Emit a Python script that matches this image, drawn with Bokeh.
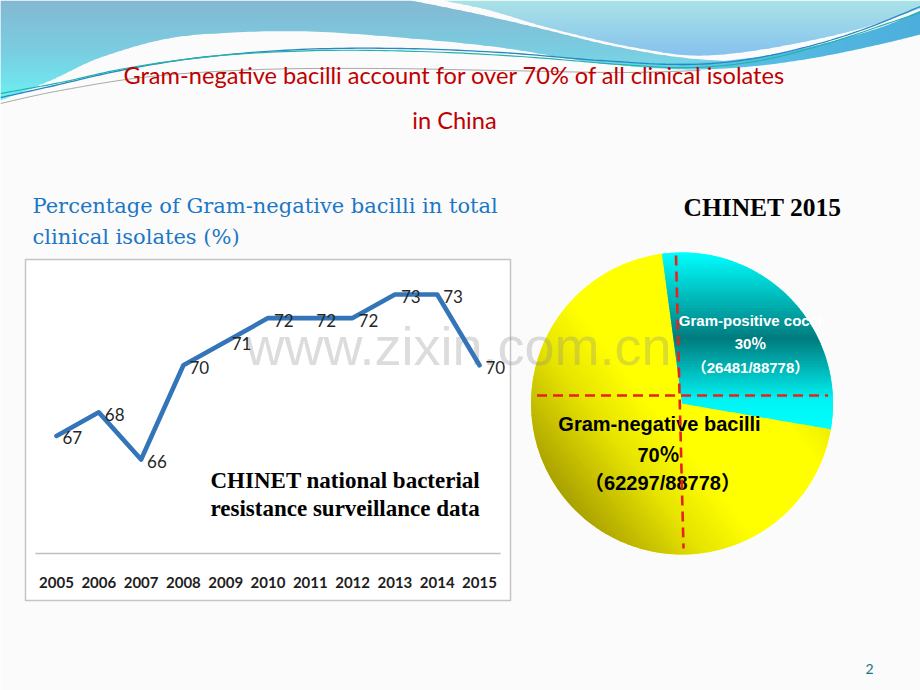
import numpy as np
from bokeh.plotting import figure
from bokeh.models import Range1d, LinearAxis, FixedTicker
from bokeh.core.properties import value
from bokeh.embed import file_html
from bokeh.resources import INLINE

# ---------------- data ----------------
years = [2005, 2006, 2007, 2008, 2009, 2010, 2011, 2012, 2013, 2014, 2015]
gnb_pct = [67, 68, 66, 70, 71, 72, 72, 72, 73, 73, 70]

pie_categories = ["Gram-negative bacilli", "Gram-positive cocci"]
pie_counts = [62297, 26481]

title_lines = ["Gram-negative bacilli account for over 70% of all clinical isolates", "in China"]
subtitle_lines = ["Percentage of Gram-negative bacilli in total", "clinical isolates (%)"]
note_lines = ["CHINET national bacterial", "resistance surveillance data"]
pie_title = "CHINET 2015"
watermark = "www.zixin.com.cn"
page_no = "2"

# ---------------- helpers ----------------
W, H = 920, 690


def Y(v):
    return H - np.asarray(v, dtype=float)


def smooth(pts, n=14):
    pts = np.asarray(pts, float)
    P = np.vstack([pts[0], pts, pts[-1]])
    out = []
    for i in range(1, len(P) - 2):
        p0, p1, p2, p3 = P[i - 1], P[i], P[i + 1], P[i + 2]
        for t in np.linspace(0, 1, n, endpoint=False):
            t2, t3 = t * t, t * t * t
            out.append(0.5 * ((2 * p1) + (-p0 + p2) * t + (2 * p0 - 5 * p1 + 4 * p2 - p3) * t2
                              + (-p0 + 3 * p1 - 3 * p2 + p3) * t3))
    out.append(P[-2])
    return [tuple(q) for q in out]


def clip(poly, nx, ny, c):
    out = []
    n = len(poly)
    for i in range(n):
        a, b = poly[i], poly[(i + 1) % n]
        da = nx * a[0] + ny * a[1] - c
        db = nx * b[0] + ny * b[1] - c
        if da >= 0:
            out.append(a)
        if (da >= 0) != (db >= 0):
            t = da / (da - db)
            out.append((a[0] + t * (b[0] - a[0]), a[1] + t * (b[1] - a[1])))
    return out


def hex2rgb(h):
    h = h.lstrip("#")
    return np.array([int(h[i:i + 2], 16) for i in (0, 2, 4)], float)


def color_at(stops, t):
    for (t0, c0), (t1, c1) in zip(stops[:-1], stops[1:]):
        if t <= t1:
            f = 0 if t1 == t0 else (t - t0) / (t1 - t0)
            f = min(max(f, 0), 1)
            c = hex2rgb(c0) * (1 - f) + hex2rgb(c1) * f
            return "#%02x%02x%02x" % tuple(int(round(v)) for v in c)
    return stops[-1][1]


def gradient(p, poly, d, stops, n=60, alpha=1.0):
    dx, dy = d
    L = np.hypot(dx, dy)
    dx, dy = dx / L, dy / L
    proj = [dx * x + dy * y for x, y in poly]
    t0, t1 = min(proj), max(proj)
    xs, ys, cs = [], [], []
    for k in range(n):
        a = t0 + (t1 - t0) * k / n
        b = t0 + (t1 - t0) * (k + 1) / n
        q = clip(poly, dx, dy, a - 0.4)
        q = clip(q, -dx, -dy, -(b + 0.4))
        if len(q) >= 3:
            xs.append([v[0] for v in q])
            ys.append([v[1] for v in q])
            cs.append(color_at(stops, (k + 0.5) / n))
    p.patches(xs, ys, fill_color=cs, line_color=None, fill_alpha=alpha)


def to_data(pts):
    return [(x, H - y) for x, y in pts]


# ---------------- figure ----------------
p = figure(width=W, height=H, x_range=Range1d(0, W), y_range=Range1d(0, H),
           output_backend="svg", toolbar_location=None, min_border=0,
           x_axis_type=None, y_axis_type=None,
           background_fill_color="#FBFBFB", border_fill_color="#FBFBFB")
p.outline_line_color = None

# ---- top decorative waves ----
shapeA = [(0, 0)] + smooth([(410, 0), (470, 12), (540, 28), (610, 45), (680, 57), (750, 62)]) + \
    smooth([(750, 62), (700, 66), (610, 64), (500, 47), (400, 37), (310, 31), (233, 32),
            (167, 38), (100, 57), (50, 80), (0, 100)])
gradient(p, to_data(shapeA), (0, -1), [(0, "#84B8D2"), (0.5, "#7ACCE0"), (1, "#6CF0F4")], n=40)

shapeB = [(443, 0), (920, 0)] + smooth([(920, 8), (860, 28), (800, 42), (740, 52), (690, 55),
                                        (640, 48), (600, 40), (540, 25), (490, 10), (443, 0)])
gradient(p, to_data(shapeB), (0, -1), [(0, "#AAE3E6"), (1, "#86C2EE")], n=30)

shapeC = smooth([(630, 62), (700, 62), (760, 56), (820, 44), (880, 27), (920, 10)]) + \
    smooth([(920, 34), (870, 46), (810, 58), (750, 66), (690, 69), (630, 66)])
gradient(p, to_data(shapeC), (1, 0), [(0, "#6AD8E6"), (0.4, "#56BEE2"), (1, "#4CAEDC")], n=30)

for pts, col, w in [
    ([(0, 97), (50, 86), (120, 70), (200, 57), (300, 49), (400, 48), (500, 52), (600, 60),
      (680, 64), (740, 60), (800, 48), (860, 30), (920, 6)], "#2A86C6", 1.3),
    ([(0, 93), (60, 82), (130, 67), (220, 55), (320, 50), (420, 51), (520, 56), (620, 64),
      (690, 67), (760, 60), (830, 42), (890, 22), (920, 12)], "#22B4A8", 1.2),
    ([(0, 103), (60, 90), (150, 76), (260, 69), (380, 68), (500, 70), (620, 72), (700, 70)],
     "#A8A8A8", 1.0),
]:
    s = smooth(pts)
    p.line([q[0] for q in s], list(Y([q[1] for q in s])), line_color=col, line_width=w)

# ---- titles ----
p.text(x=[454, 454], y=Y([74, 119]), text=title_lines, text_font=value("Lato"),
       text_font_size="23.6px", text_color="#C00000", text_align="center", text_baseline="middle")
p.text(x=[32, 32], y=Y([205, 236]), text=subtitle_lines, text_font=value("DejaVu Serif"),
       text_font_size="21px", text_color="#1C77C5", text_align="left", text_baseline="middle")
p.text(x=[762], y=Y([207]), text=[pie_title], text_font=value("Liberation Serif"),
       text_font_style="bold", text_font_size="25.5px", text_color="#000000",
       text_align="center", text_baseline="middle")

# ---- line chart box ----
p.quad(left=[25], right=[510], top=Y([259]), bottom=Y([600]), fill_color="#FFFFFF",
       line_color="#C4C4C4", line_width=1.5)

# ranges for the line chart (year / percent), scaled to the chart region
kx = 42.3
ky = 23.57
x0_px, y0_px, y0_val = 56.0, 459.0, 66.0
p.extra_x_ranges = {"yr": Range1d(years[0] - x0_px / kx, years[0] + (W - x0_px) / kx)}
p.extra_y_ranges = {"pct": Range1d(y0_val - (H - y0_px) / ky, y0_val + y0_px / ky)}

# ---- pie ----
cx, cy, r = 681.5, 403.0, 151.0
total = float(sum(pie_counts))
fracs = [c / total for c in pie_counts]
start_offset = 97.6  # degrees, boundary at top
ang_pos_end = start_offset
ang_pos_start = start_offset - fracs[1] * 360
ang_neg_end = ang_pos_start
ang_neg_start = ang_pos_start - fracs[0] * 360

p.wedge(x=[cx, cx], y=Y([cy, cy]), radius=r,
        start_angle=[ang_neg_start, ang_pos_start], end_angle=[ang_neg_end, ang_pos_end],
        start_angle_units="deg", end_angle_units="deg",
        fill_color=["#FFFF00", "#00FFFF"], line_color=None)


def wedge_poly(a0, a1, n=120):
    th = np.radians(np.linspace(a0, a1, n))
    pts = [(cx, H - cy)] + [(cx + r * np.cos(t), H - cy + r * np.sin(t)) for t in th]
    return pts


gradient(p, wedge_poly(ang_neg_start, ang_neg_end), (np.cos(np.radians(38)), np.sin(np.radians(38))),
         [(0, "#A9A000"), (0.3, "#E6E300"), (0.5, "#FFFF00"), (0.88, "#FFFF00"), (1, "#EEEE00")], n=70)
gradient(p, wedge_poly(ang_pos_start, ang_pos_end), (0, -1),
         [(0, "#00FFFF"), (0.49, "#007B7D"), (0.84, "#00F4F4"), (1, "#00FFFF")], n=60)

# ---- watermark ----
p.text(x=[458], y=Y([345]), text=[watermark], text_font=value("Liberation Sans"),
       text_font_size="54px", text_color="#8A8A8A", text_alpha=0.3,
       text_align="center", text_baseline="alphabetic")

# ---- pie labels ----
pct_labels = ["%d\uff05" % round(f * 100) for f in fracs]
cnt_labels = ["\uff08%d/%d\uff09" % (c, int(total)) for c in pie_counts]
pie_font = value("'Liberation Sans', 'Noto Sans CJK SC'")
p.text(x=[750, 750, 750], y=Y([320, 343, 367]),
       text=[pie_categories[1], pct_labels[1], cnt_labels[1]], text_font=pie_font,
       text_font_style="bold", text_font_size="15px", text_color="#FFFFFF",
       text_align="center", text_baseline="middle")
p.text(x=[659, 658, 662], y=Y([423, 454, 482]),
       text=[pie_categories[0], pct_labels[0], cnt_labels[0]], text_font=pie_font,
       text_font_style="bold", text_font_size="20px", text_color="#000000",
       text_align="center", text_baseline="middle")

# ---- red dashed cross ----
p.line([cx - 6, cx + 1.5], list(Y([cy - r + 3, cy + r - 6])), line_color="#E5231E",
       line_width=2.6, line_dash="10 6")
p.line([cx - r + 6, cx + r - 5], list(Y([cy - 8, cy - 8])), line_color="#E5231E",
       line_width=2.6, line_dash="10 6")

# ---- line series ----
p.line(years, gnb_pct, x_range_name="yr", y_range_name="pct", line_color="#3475BA",
       line_width=4.6, line_join="round", line_cap="round")
p.text(years, gnb_pct, text=[str(v) for v in gnb_pct], x_range_name="yr", y_range_name="pct",
       x_offset=6, y_offset=2, text_font=value("Lato"),
       text_font_size="17px", text_color="#262626", text_align="left", text_baseline="middle")

ax = LinearAxis(x_range_name="yr", y_range_name="pct", fixed_location=62,
                ticker=FixedTicker(ticks=years), bounds=(years[0] - 0.5, years[-1] + 0.5))
ax.axis_line_color = "#BFBFBF"
ax.axis_line_width = 1.5
ax.major_tick_line_color = None
ax.minor_tick_line_color = None
ax.major_label_standoff = 17
ax.major_label_text_font = "Lato"
ax.major_label_text_font_style = "bold"
ax.major_label_text_font_size = "15px"
ax.major_label_text_color = "#1E1E1E"
p.add_layout(ax, "below")

# ---- note ----
p.text(x=[210, 210], y=Y([480, 508]), text=note_lines, text_font=value("Liberation Serif"),
       text_font_style="bold", text_font_size="23px", text_color="#000000",
       text_align="left", text_baseline="middle")

# ---- page number ----
p.text(x=[869], y=Y([668]), text=[page_no], text_font=value("Lato"), text_font_size="14px",
       text_color="#1B6E8A", text_align="center", text_baseline="middle")

open("out.html", "w").write(file_html(p, INLINE))
